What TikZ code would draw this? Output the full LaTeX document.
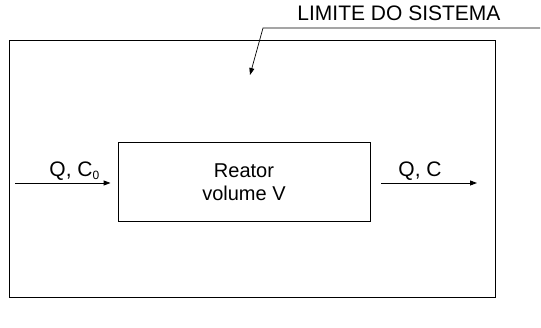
\documentclass[tikz,border=0pt]{standalone}
\usepackage{fontspec}
\setmainfont{Liberation Sans}
\usetikzlibrary{arrows.meta}

\begin{document}
\begin{tikzpicture}[x=1pt,y=-1pt,line width=0.9pt,>={Triangle[length=7pt,width=5pt]}]
       \tikzset{boundary/.style ={rectangle, minimum width=486pt, minimum height=257pt, draw}}
       
       \tikzset{reactor/.style={rectangle, minimum width=252pt,
minimum height=79pt, draw, align=center, font=\fontsize{20}{23}\selectfont}}

        \tikzset{label/.style={inner sep=0pt, anchor=base west, font=\fontsize{21}{24}\selectfont}}

        \useasboundingbox (0,0) rectangle (541,328);

        \node[boundary] (limite) at (252,168.5) {};
        \node[reactor] (reator) at (244,182) {Reator\\volume V};

        \coordinate (in) at (15,183);
        \coordinate (out) at (477,183);
        \coordinate (leaderend) at (540,28);
        \coordinate (leaderknee) at (263,28);
        \coordinate (leadertip) at (250,75);

        \node[label] (entrada) at (49,177) {Q, C\raisebox{-2.5pt}{\fontsize{12}{12}\selectfont 0}};
        \node[label] (saida) at (398,177) {Q, C};
        \node[label] (nome) at (297,21) {LIMITE DO SISTEMA};

        \draw[->, shorten >=7pt](in) -- (reator.west |- in);
        \draw[->, shorten <=11pt](reator.east |- out) -- (out);
        \draw[->, line width=0.7pt](leaderend) -- (leaderknee) -- (leadertip);

   \end{tikzpicture}
\end{document}
